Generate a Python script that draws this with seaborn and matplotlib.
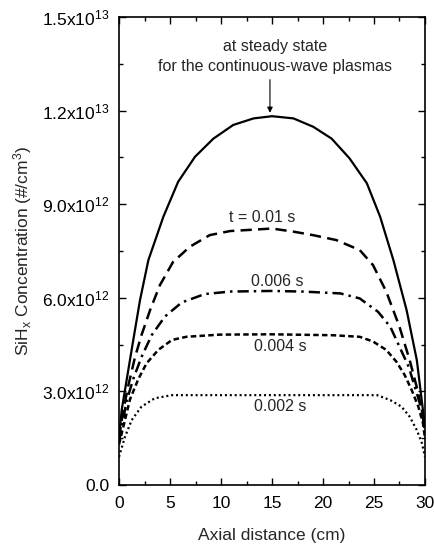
import matplotlib
matplotlib.use("Agg")
import matplotlib.pyplot as plt
import seaborn as sns
import pandas as pd
import numpy as np
from matplotlib.ticker import MultipleLocator, FuncFormatter

sns.set_theme(style="ticks")
plt.rcParams['font.family'] = ['Liberation Sans', 'DejaVu Sans']
plt.rcParams['mathtext.fontset'] = 'custom'
plt.rcParams['mathtext.rm'] = 'Liberation Sans'
plt.rcParams['mathtext.it'] = 'Liberation Sans:italic'

# data (x in cm, y in 1e12 #/cm^3)
x_steady = [0, 0.26, 0.75, 1.4, 2.06, 2.88, 4.35, 5.8, 7.45, 9.25, 11.2, 13.2, 15, 17.1, 19.05, 20.85, 22.6, 24.3, 25.6, 26.9, 28.2, 29.2, 29.8, 30]
y_steady = [1.5, 2.4, 3.37, 4.65, 5.93, 7.21, 8.6, 9.72, 10.52, 11.1, 11.54, 11.75, 11.82, 11.75, 11.48, 11.1, 10.47, 9.67, 8.6, 7.21, 5.6, 4.0, 2.4, 1.9]

x_t010 = [0, 0.42, 0.92, 1.57, 2.2, 3.04, 4.0, 5.3, 6.96, 8.9, 10.9, 13.5, 15, 17.1, 19.0, 21.3, 23.6, 24.9, 26.2, 27.5, 28.5, 29.35, 30]
y_t010 = [1.5, 2.4, 3.2, 4.1, 4.8, 5.6, 6.4, 7.15, 7.64, 8.01, 8.14, 8.19, 8.22, 8.12, 8.01, 7.85, 7.53, 7.05, 6.2, 5.07, 4.0, 2.94, 1.8]

x_t006 = [0, 0.75, 1.4, 2.2, 3.2, 4.5, 6.15, 8.4, 10.9, 15, 18, 21.7, 23.6, 25.4, 26.6, 27.5, 28.4, 29.0, 29.7, 30]
y_t006 = [1.4, 2.7, 3.4, 4.1, 4.8, 5.4, 5.85, 6.12, 6.2, 6.22, 6.2, 6.14, 5.98, 5.55, 5.07, 4.43, 3.79, 3.15, 2.4, 1.7]

x_t004 = [0, 1.08, 1.9, 2.7, 3.85, 5.2, 6.6, 9.9, 15, 21, 23.6, 24.9, 26.2, 27.2, 28.0, 28.7, 29.35, 29.8, 30]
y_t004 = [1.3, 2.75, 3.4, 3.9, 4.33, 4.65, 4.75, 4.82, 4.83, 4.8, 4.75, 4.6, 4.33, 3.95, 3.53, 3.04, 2.51, 1.98, 1.5]

x_t002 = [0, 0.59, 1.24, 2.2, 3.5, 5.2, 10, 15, 20, 25.3, 26.6, 27.7, 28.5, 29.2, 29.7, 30]
y_t002 = [0.9, 1.55, 2.08, 2.51, 2.78, 2.88, 2.88, 2.88, 2.88, 2.88, 2.72, 2.51, 2.19, 1.76, 1.34, 0.9]

series = [
    (x_steady, y_steady, None, 1.6),
    (x_t010, y_t010, (0, (4.5, 2.5)), 1.8),
    (x_t006, y_t006, (0, (4.5, 2, 1, 2)), 1.8),
    (x_t004, y_t004, (0, (2.2, 1.3)), 1.8),
    (x_t002, y_t002, (0, (0.9, 1.3)), 1.6),
]

fig = plt.figure(figsize=(4.35, 5.46), dpi=100)
ax = fig.add_axes([0.2736, 0.1117, 0.7034, 0.8572])

for xs, ys, ls, lw in series:
    df = pd.DataFrame({"x": xs, "y": np.array(ys) * 1e12})
    kw = {}
    if ls is not None:
        kw["linestyle"] = ls
    sns.lineplot(data=df, x="x", y="y", ax=ax, color="black", linewidth=lw, sort=False, **kw)

ax.set_xlim(0, 30)
ax.set_ylim(0, 1.5e13)
ax.xaxis.set_major_locator(MultipleLocator(5))
ax.xaxis.set_minor_locator(MultipleLocator(2.5))
ax.yaxis.set_major_locator(MultipleLocator(3e12))
ax.yaxis.set_minor_locator(MultipleLocator(1.5e12))

def yfmt(v, pos):
    if v == 0:
        return "0.0"
    e = int(np.floor(np.log10(abs(v)) + 1e-9))
    m = v / 10**e
    return f"{m:.1f}x10$^{{{e}}}$"

ax.yaxis.set_major_formatter(FuncFormatter(yfmt))
ax.tick_params(which="both", direction="in", top=True, right=True, width=1.0, labelsize=12.5, colors="black", pad=7)
ax.tick_params(axis="x", pad=8)
ax.tick_params(which="major", length=5)
ax.tick_params(which="minor", length=3)
for s in ax.spines.values():
    s.set_linewidth(1.2)
    s.set_color("black")

ax.set_xlabel("Axial distance (cm)", fontsize=12.5, labelpad=12)
ax.set_ylabel("SiH$_\\mathregular{x}$ Concentration (#/cm$^\\mathregular{3}$)", fontsize=12.5, labelpad=6)

ax.text(15.3, 14.04e12, "at steady state", ha="center", va="center", fontsize=11.5)
ax.text(15.3, 13.4e12, "for the continuous-wave plasmas", ha="center", va="center", fontsize=11.5)
ax.annotate("", xy=(14.8, 11.84e12), xytext=(14.8, 13.08e12),
            arrowprops=dict(arrowstyle="-|>", color="black", lw=0.8, mutation_scale=8))

ax.text(14.0, 8.56e12, "t = 0.01 s", ha="center", va="center", fontsize=11.5)
ax.text(15.5, 6.52e12, "0.006 s", ha="center", va="center", fontsize=11.5)
ax.text(15.8, 4.45e12, "0.004 s", ha="center", va="center", fontsize=11.5)
ax.text(15.8, 2.51e12, "0.002 s", ha="center", va="center", fontsize=11.5)

fig.savefig("out.png", dpi=100)
